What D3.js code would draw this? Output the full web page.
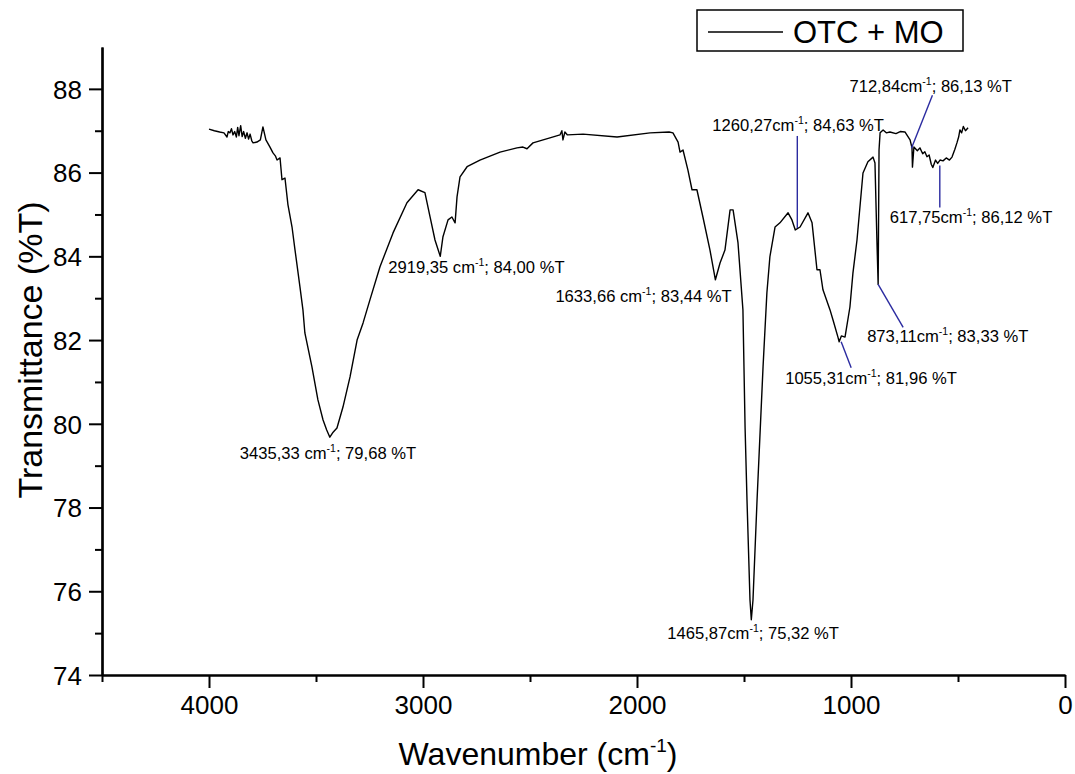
<!DOCTYPE html>
<html>
<head>
<meta charset="utf-8">
<script src="https://cdn.jsdelivr.net/npm/d3@7"></script>
<style>
  body { margin: 0; background: #fff; }
  text { font-family: Arial, "Liberation Sans", sans-serif; }
</style>
</head>
<body>
<script>
const width = 1075, height = 774;

// spectrum
const wavenumber = [4000, 3975, 3950, 3930, 3916, 3910, 3902, 3895, 3888, 3880, 3872, 3866, 3860, 3852, 3845, 3838, 3830, 3822, 3815, 3808, 3800, 3794, 3776, 3760, 3748, 3734, 3715, 3701, 3690, 3682, 3668, 3659, 3645, 3631, 3612, 3598, 3575, 3561, 3552, 3519, 3491, 3467, 3450, 3435.33, 3420, 3402, 3374, 3341, 3308, 3280, 3248, 3201, 3140, 3075, 3023, 2991, 2967, 2944, 2919.35, 2907, 2883, 2865, 2850, 2841, 2827, 2794, 2734, 2640, 2561, 2533, 2514, 2486, 2407, 2360, 2351, 2346, 2337, 2325, 2252, 2093, 1939, 1850, 1832, 1808, 1799, 1785, 1762, 1743, 1720, 1692, 1659, 1633.66, 1612, 1589, 1565, 1551, 1528, 1505, 1495, 1486, 1472, 1465.87, 1458, 1439, 1411, 1393, 1379, 1355, 1332, 1294, 1276, 1260.27, 1238, 1201, 1182, 1159, 1145, 1131, 1098, 1084, 1061, 1055.31, 1045, 1028, 1005, 991, 972, 944, 921, 897, 888, 879, 873.11, 869, 864, 850, 835, 818, 790, 770, 748, 724, 715, 712.84, 706, 690, 678, 665, 655, 645, 635, 625, 617.75, 605, 595, 584, 570, 555, 540, 528, 515, 505, 497, 491, 483, 475, 465, 453];
const transmittance = [87.04, 87.0, 86.97, 86.95, 86.85, 86.98, 86.95, 87.05, 86.9, 86.98, 86.85, 87.08, 86.88, 87.12, 86.86, 86.98, 86.82, 86.95, 86.8, 86.92, 86.76, 86.71, 86.73, 86.78, 87.09, 86.78, 86.61, 86.47, 86.4, 86.3, 86.35, 85.83, 85.87, 85.23, 84.7, 84.15, 83.27, 82.72, 82.17, 81.36, 80.57, 80.09, 79.85, 79.68, 79.8, 79.9, 80.4, 81.12, 82.0, 82.41, 82.96, 83.75, 84.56, 85.28, 85.59, 85.52, 84.94, 84.39, 84.0, 84.46, 84.87, 84.94, 84.8, 85.42, 85.9, 86.14, 86.3, 86.49, 86.59, 86.61, 86.57, 86.71, 86.83, 86.9, 87.0, 86.78, 86.97, 86.9, 86.92, 86.85, 86.95, 86.97, 86.95, 86.73, 86.49, 86.54, 86.06, 85.59, 85.59, 84.94, 84.15, 83.44, 83.84, 84.15, 85.11, 85.11, 84.32, 82.72, 79.92, 78.18, 75.79, 75.32, 75.79, 78.18, 81.36, 83.13, 83.99, 84.7, 84.8, 85.04, 84.87, 84.63, 84.7, 85.04, 84.8, 83.68, 83.68, 83.2, 82.72, 82.48, 82.07, 81.96, 82.1, 82.07, 82.79, 83.6, 84.39, 85.99, 86.26, 86.37, 86.23, 84.4, 83.33, 86.54, 86.95, 87.02, 86.95, 86.97, 86.93, 86.98, 86.97, 86.78, 86.59, 86.13, 86.61, 86.52, 86.59, 86.45, 86.5, 86.38, 86.42, 86.2, 86.12, 86.3, 86.22, 86.3, 86.28, 86.35, 86.3, 86.37, 86.55, 86.71, 86.85, 87.02, 86.95, 87.1, 87.0, 87.07];

// peak annotations
const peakWn = [3435.33, 2919.35, 1633.66, 1465.87, 1260.27, 1055.31, 873.11, 712.84, 617.75];
const peakT = [79.68, 84.00, 83.44, 75.32, 84.63, 81.96, 83.33, 86.13, 86.12];
const peakHead = ["3435,33 cm", "2919,35 cm", "1633,66 cm", "1465,87cm", "1260,27cm", "1055,31cm", "873,11cm", "712,84cm", "617,75cm"];
const peakTail = ["; 79,68 %T", "; 84,00 %T", "; 83,44 %T", "; 75,32 %T", "; 84,63 %T", "; 81,96 %T", "; 83,33 %T", "; 86,13 %T", "; 86,12 %T"];

// ticks
const xMajor = [4000, 3000, 2000, 1000, 0];
const xMinor = [4500, 3500, 2500, 1500, 500];
const yMajor = [74, 76, 78, 80, 82, 84, 86, 88];
const yMinor = [75, 77, 79, 81, 83, 85, 87];

const seriesName = "OTC + MO";

// label placement relative to the peak (px): text dx/dy, leader line start/end
const labelLayout = [
  { dx: -90, dy: 22 },
  { dx: -52, dy: 17 },
  { dx: -160, dy: 22 },
  { dx: -84, dy: 19 },
  { dx: -83, dy: -99, line: [2, -2, 2, -94] },
  { dx: -54, dy: 42, line: [2, 0, 12, 26] },
  { dx: -11, dy: 58, line: [0, 0, 25, 43] },
  { dx: -63, dy: -75, line: [-1, -19, 20, -72] },
  { dx: -43, dy: 55, line: [7, -2, 7, 40] }
];

const x = d3.scaleLinear().domain([4500, 0]).range([102, 1065]);
const y = d3.scaleLinear().domain([74, 89]).range([675, 47]);

const svg = d3.select("body").append("svg")
  .attr("width", width)
  .attr("height", height);

// axes
const xAxis = svg.append("g")
  .attr("transform", "translate(0,675)")
  .call(d3.axisBottom(x).tickValues(xMajor).tickSize(13).tickPadding(8).tickSizeOuter(0).tickFormat(d3.format("d")));
svg.append("g")
  .attr("transform", "translate(0,675)")
  .call(d3.axisBottom(x).tickValues(xMinor).tickSize(7).tickFormat("").tickSizeOuter(0));

const yAxis = svg.append("g")
  .attr("transform", "translate(102,0)")
  .call(d3.axisLeft(y).tickValues(yMajor).tickSize(13).tickPadding(7).tickSizeOuter(0));
svg.append("g")
  .attr("transform", "translate(102,0)")
  .call(d3.axisLeft(y).tickValues(yMinor).tickSize(7).tickFormat("").tickSizeOuter(0));

svg.selectAll(".domain").attr("stroke", "#000").attr("stroke-width", 2.2);
svg.selectAll(".tick line").attr("stroke", "#000").attr("stroke-width", 2);
xAxis.selectAll("text").attr("font-size", 26).attr("fill", "#000").attr("font-family", "Arial, 'Liberation Sans', sans-serif");
yAxis.selectAll("text").attr("font-size", 26).attr("fill", "#000").attr("font-family", "Arial, 'Liberation Sans', sans-serif")
  .attr("dy", "0.36em");

// axis titles
const xt = svg.append("text")
  .attr("x", 538).attr("y", 765)
  .attr("text-anchor", "middle")
  .attr("font-size", 32);
xt.append("tspan").text("Wavenumber (cm");
xt.append("tspan").attr("font-size", 19).attr("dy", -13).text("-1");
xt.append("tspan").attr("dy", 13).text(")");

svg.append("text")
  .attr("transform", "translate(42,350) rotate(-90)")
  .attr("text-anchor", "middle")
  .attr("font-size", 34)
  .text("Transmittance (%T)");

// spectrum
const line = d3.line()
  .x(i => x(wavenumber[i]))
  .y(i => y(transmittance[i]));

svg.append("path")
  .attr("d", line(d3.range(wavenumber.length)))
  .attr("fill", "none")
  .attr("stroke", "#000")
  .attr("stroke-width", 1.4)
  .attr("stroke-linejoin", "round");

// annotations
peakWn.forEach((wn, i) => {
  const px = x(wn), py = y(peakT[i]);
  const lay = labelLayout[i];
  if (lay.line) {
    svg.append("line")
      .attr("x1", px + lay.line[0]).attr("y1", py + lay.line[1])
      .attr("x2", px + lay.line[2]).attr("y2", py + lay.line[3])
      .attr("stroke", "#2b2ba0")
      .attr("stroke-width", 1.4);
  }
  const t = svg.append("text")
    .attr("x", px + lay.dx)
    .attr("y", py + lay.dy)
    .attr("font-size", 16.6)
    .attr("fill", "#000");
  t.append("tspan").text(peakHead[i]);
  t.append("tspan").attr("font-size", 10.5).attr("dy", -7).text("-1");
  t.append("tspan").attr("dy", 7).text(peakTail[i]);
});

// legend
svg.append("rect")
  .attr("x", 697).attr("y", 10)
  .attr("width", 266).attr("height", 41)
  .attr("fill", "#fff")
  .attr("stroke", "#000")
  .attr("stroke-width", 1.5);
svg.append("line")
  .attr("x1", 708).attr("x2", 783)
  .attr("y1", 32).attr("y2", 32)
  .attr("stroke", "#000").attr("stroke-width", 1.4);
svg.append("text")
  .attr("x", 793).attr("y", 43)
  .attr("font-size", 31)
  .text(seriesName);
</script>
</body>
</html>
